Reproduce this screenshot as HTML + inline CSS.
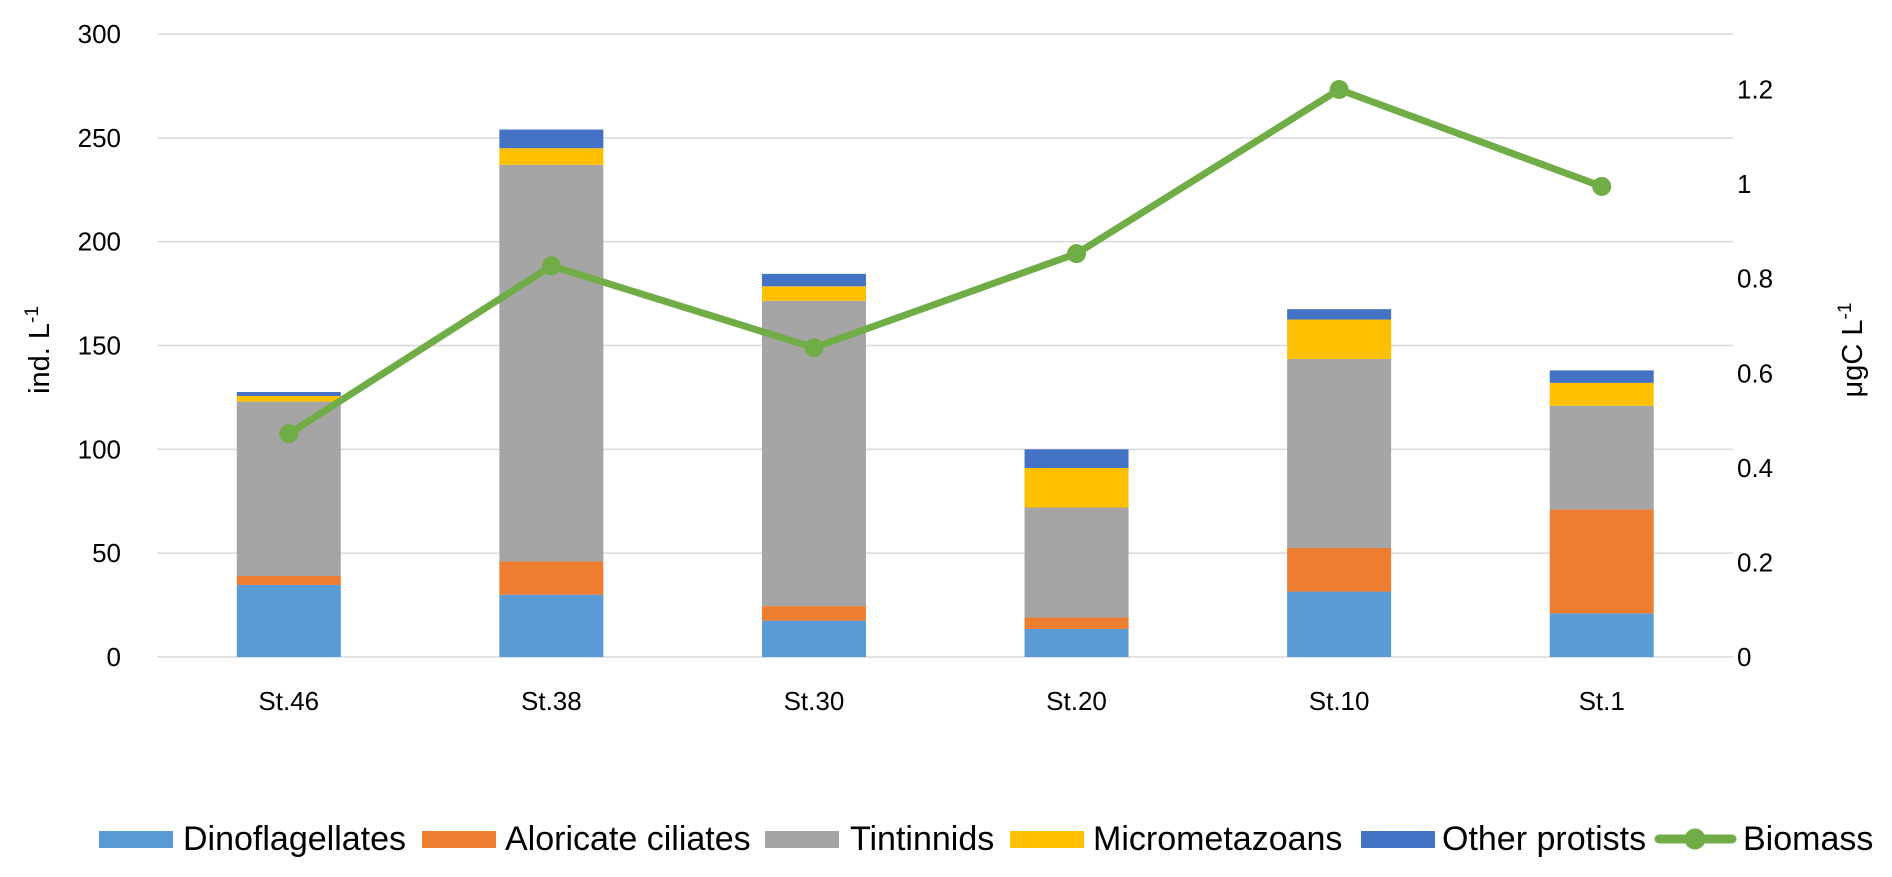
<!DOCTYPE html>
<html><head><meta charset="utf-8"><style>
html,body{margin:0;padding:0;background:#fff;}
svg{display:block;font-family:"Liberation Sans",Arial,sans-serif;}
</style></head><body>
<svg id="chart" width="1892" height="877"></svg>
<script>
const categories=["St.46","St.38","St.30","St.20","St.10","St.1"];
const dino=[34.7,30,17.5,13.5,31.5,21];
const aloricate=[4.3,16,7,5.5,21,50];
const tintinnids=[84,191,147,53,91,50];
const micrometazoans=[2.7,8,7,19,19,11];
const otherProtists=[1.9,9,6,9,5,6];
const biomass=[0.472,0.827,0.654,0.853,1.2,0.995];
const leftTicks=[0,50,100,150,200,250,300];
const rightTicks=[0,0.2,0.4,0.6,0.8,1,1.2];
const seriesNames=["Dinoflagellates","Aloricate ciliates","Tintinnids","Micrometazoans","Other protists"];
const seriesColors=["#5b9bd5","#ed7d31","#a5a5a5","#ffc000","#4472c4"];
const series=[dino,aloricate,tintinnids,micrometazoans,otherProtists];

const NS="http://www.w3.org/2000/svg";
const svg=document.getElementById('chart');
const x0=157.5,x1=1733,yZero=657,yTop=34;
const yL=v=>yZero-(v/300)*(yZero-yTop);
const yR=v=>yZero-(v/1.2)*(yZero-89.5);
const step=(x1-x0)/categories.length;
const xC=i=>x0+step*(i+0.5);
const bw=104;
function mk(tag,attrs,parent){const e=document.createElementNS(NS,tag);for(const k in attrs)e.setAttribute(k,attrs[k]);(parent||svg).appendChild(e);return e;}

leftTicks.forEach(t=>{
  const l=mk('line',{x1:x0,x2:x1,y1:yL(t),y2:yL(t),stroke:'#d9d9d9','stroke-width':1.5});
  
  
  const tx=mk('text',{x:121,y:yL(t)+9,'text-anchor':'end','font-size':26,fill:'#000'});
  tx.textContent=t;
  
  
});
rightTicks.forEach(t=>{
  const tx=mk('text',{x:1737,y:yR(t)+9,'text-anchor':'start','font-size':26,fill:'#000'});
  tx.textContent=t;
  
  
});

categories.forEach((c,i)=>{
  let acc=0;
  series.forEach((s,k)=>{
    const top=yL(acc+s[i]),bot=yL(acc);
    const r=mk('rect',{x:xC(i)-bw/2,y:top,width:bw,height:bot-top,fill:seriesColors[k]});
    
    
    acc+=s[i];
  });
  const tx=mk('text',{x:xC(i),y:710,'text-anchor':'middle','font-size':26,fill:'#000'});
  tx.textContent=c;
  
  
});

const pts=biomass.map((v,i)=>xC(i)+','+yR(v)).join(' ');
const pl=mk('polyline',{points:pts,fill:'none',stroke:'#70ad47','stroke-width':7,'stroke-linejoin':'round'});


biomass.forEach((v,i)=>{
  const c=mk('circle',{cx:xC(i),cy:yR(v),r:9.5,fill:'#70ad47'});
  
  
});

const yt=mk('text',{transform:'translate(49,350) rotate(-90)','text-anchor':'middle','font-size':29,fill:'#000'});
yt.innerHTML='ind. L<tspan dy="-11" font-size="19">-1</tspan>';


const yt2=mk('text',{transform:'translate(1862,350) rotate(-90)','text-anchor':'middle','font-size':29,fill:'#000'});
yt2.innerHTML='μgC L<tspan dy="-11" font-size="19">-1</tspan>';



// legend
const legend=mk('g',{});


const legItems=[[99,183,0],[422,505,1],[765,850,2],[1010,1093,3],[1361,1442,4]];
legItems.forEach(([sx,tx0,k])=>{
  const r=mk('rect',{x:sx,y:831,width:74,height:17,fill:seriesColors[k]},legend);
  
  
  const t=mk('text',{x:tx0,y:850,'font-size':34,fill:'#000'},legend);
  t.textContent=seriesNames[k];
  
  
});
const ll=mk('line',{x1:1659,x2:1732,y1:839,y2:839,stroke:'#70ad47','stroke-width':9,'stroke-linecap':'round'},legend);


const lc=mk('circle',{cx:1695,cy:839,r:10.5,fill:'#70ad47'},legend);


const lt=mk('text',{x:1743,y:850,'font-size':34,fill:'#000'},legend);
lt.textContent='Biomass';


</script>
</body></html>
